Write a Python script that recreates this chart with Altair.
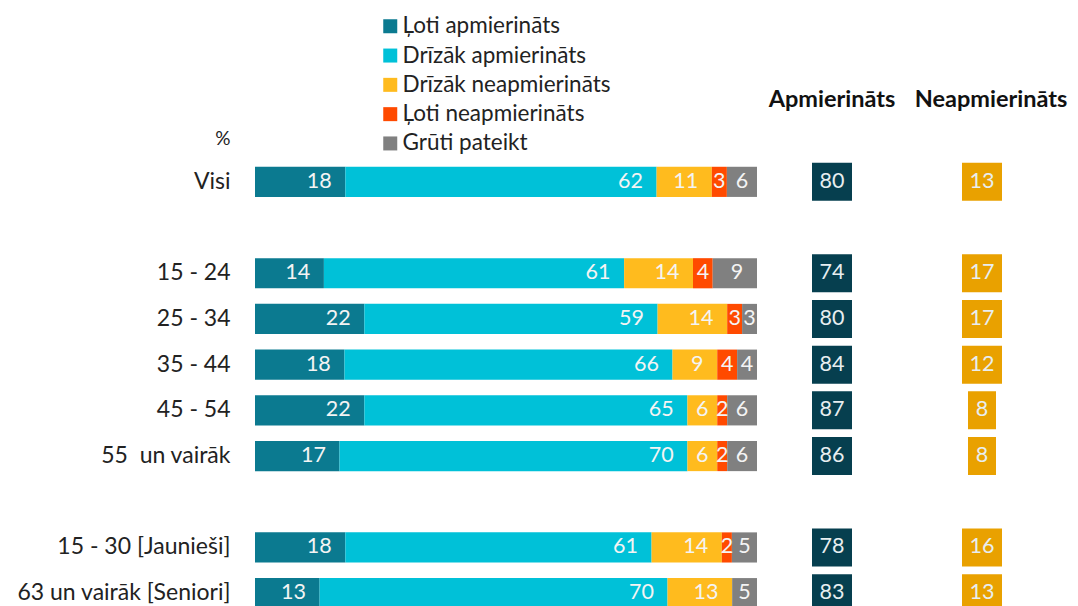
import altair as alt
import pandas as pd

groups = ["Visi", "15 - 24", "25 - 34", "35 - 44", "45 - 54", "55\u00a0 un vairāk",
          "15 - 30 [Jaunieši]", "63 un vairāk [Seniori]"]
y_domain = ["Visi", "gap1", "15 - 24", "25 - 34", "35 - 44", "45 - 54", "55\u00a0 un vairāk",
            "gap2", "15 - 30 [Jaunieši]", "63 un vairāk [Seniori]"]
categories = ["Ļoti apmierināts", "Drīzāk apmierināts", "Drīzāk neapmierināts",
              "Ļoti neapmierināts", "Grūti pateikt"]
loti_apm = [18, 14, 22, 18, 22, 17, 18, 13]
drizak_apm = [62, 61, 59, 66, 65, 70, 61, 70]
drizak_neapm = [11, 14, 14, 9, 6, 6, 14, 13]
loti_neapm = [3, 4, 3, 4, 2, 2, 2, 0]
gruti = [6, 9, 3, 4, 6, 6, 5, 5]
apmierinats = [80, 74, 80, 84, 87, 86, 78, 83]
neapmierinats = [13, 17, 17, 12, 8, 8, 16, 13]
colors = ["#0b7a90", "#00c1d8", "#ffbb1e", "#ff4a00", "#808080"]

FONT = "Lato"
series = [loti_apm, drizak_apm, drizak_neapm, loti_neapm, gruti]
rows = []
for gi, g in enumerate(groups):
    for ci, c in enumerate(categories):
        rows.append({"group": g, "category": c, "order": ci, "value": series[ci][gi]})
df = pd.DataFrame(rows)

ysc = alt.Scale(domain=y_domain, paddingInner=0.34, paddingOuter=0.17)
H = 457

base = alt.Chart(df).transform_stack(
    stack="value", as_=["v0", "v1"], groupby=["group"],
    sort=[alt.SortField("order")], offset="normalize")

yaxis = alt.Axis(
    labelExpr="indexof(datum.label, 'gap') == 0 ? '' : datum.label",
    labelFont=FONT, labelFontSize=23, labelColor="#222222", labelPadding=25,
    labelLimit=400,
    ticks=False, domain=False, grid=False,
    title="%", titleAngle=0, titleAlign="right", titleBaseline="middle",
    titleX=-25, titleY=-21, titleFont=FONT, titleFontSize=19,
    titleFontWeight="normal", titleColor="#222222",
    minExtent=247, maxExtent=247)

bars = base.mark_bar().encode(
    y=alt.Y("group:N", scale=ysc, axis=yaxis),
    x=alt.X("v0:Q", scale=alt.Scale(domain=[0, 1], nice=False, zero=False), axis=None),
    x2="v1:Q",
    color=alt.Color("category:N", sort=categories,
                    scale=alt.Scale(domain=categories, range=colors),
                    legend=alt.Legend(title=None, orient="none", legendX=124, legendY=-144,
                                      symbolType="square", symbolSize=196,
                                      symbolStrokeWidth=0, symbolOpacity=1,
                                      labelFont=FONT, labelFontSize=22.5,
                                      labelColor="#222222", rowPadding=6.3,
                                      labelOffset=1, padding=0, labelLimit=400)),
)

labels = base.transform_filter("datum.value > 0").transform_calculate(
    hw="datum.value >= 10 ? 0.024 : 0.012"
).transform_calculate(
    xc="max(datum.v1 - 0.028 - datum.hw, (datum.v0 + datum.v1) / 2)"
).mark_text(font=FONT, fontSize=21.5, color="#f4f4f4", baseline="middle", align="center").encode(
    y=alt.Y("group:N", scale=ysc, axis=yaxis),
    x=alt.X("xc:Q"),
    text="value:Q",
)

main = alt.layer(bars, labels).properties(width=502, height=H)


def box_panel(values, colname, color, dx):
    d = pd.DataFrame({"group": groups, "value": values, "col": colname})
    b = alt.Chart(d).encode(
        y=alt.Y("group:N", scale=ysc, axis=None),
        x=alt.X("col:N", axis=None),
    )
    r2 = b.transform_filter("datum.value >= 10").mark_rect(width=40, height=38, color=color)
    r1 = b.transform_filter("datum.value < 10").mark_rect(width=28, height=38, color=color)
    t = b.mark_text(font=FONT, fontSize=21.5, color="#e8eef0", baseline="middle").encode(text="value:Q")
    return alt.layer(r2, r1, t).properties(
        width=150, height=H,
        title=alt.TitleParams(colname, font=FONT, fontSize=23.5, fontWeight="bold",
                              color="#111111", anchor="middle", baseline="bottom",
                              offset=24, dx=dx))


p2 = box_panel(apmierinats, "Apmierināts", "#063f4f", 0)
p3 = box_panel(neapmierinats, "Neapmierināts", "#e9a100", 9)

chart = alt.hconcat(main, p2, p3, spacing=0).properties(
    padding={"left": 0, "top": 7, "right": 0, "bottom": 0}
).configure_view(stroke=None)

chart.save("out.html", embed_options={"renderer": "svg", "actions": False})
